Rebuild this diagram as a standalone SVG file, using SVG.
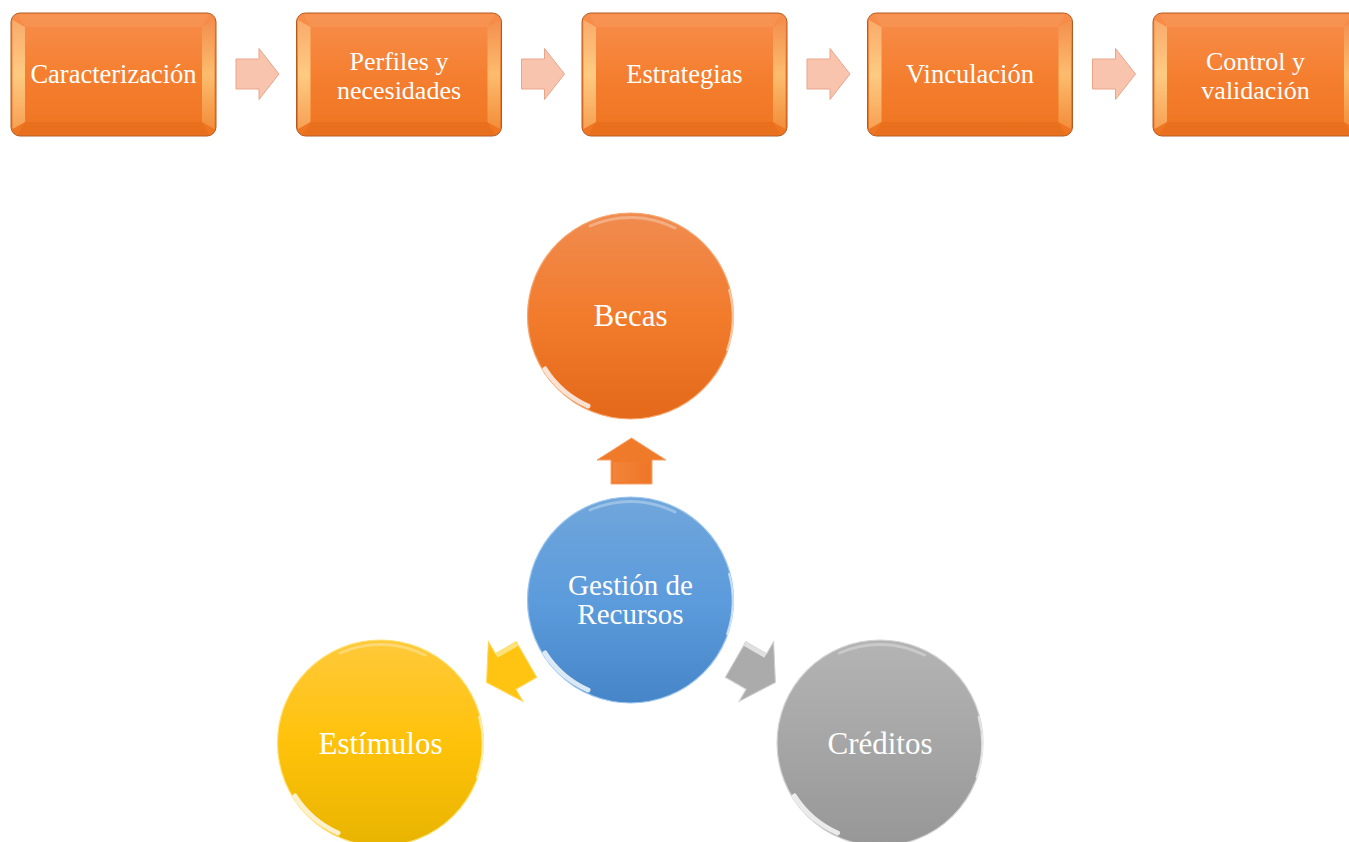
<svg xmlns="http://www.w3.org/2000/svg" xmlns:xlink="http://www.w3.org/1999/xlink" width="1349" height="842" viewBox="0 0 1349 842">
<style>
.bt{font-family:"Liberation Serif","Times New Roman",serif;font-size:26.5px;fill:#fff;text-anchor:middle}
.bt2{font-family:"Liberation Serif","Times New Roman",serif;font-size:26px;fill:#fff;text-anchor:middle}
.ct{font-family:"Liberation Serif","Times New Roman",serif;font-size:31px;fill:#fff;text-anchor:middle}
.sa{fill:#F9C4AE;stroke:#E9A58A;stroke-width:1}
.hl{fill:none;stroke:#fff;stroke-linecap:round}
</style>
<defs>
<linearGradient id="gBox" x1="0" y1="0" x2="0" y2="1">
<stop offset="0" stop-color="#F78E4C"/><stop offset="0.5" stop-color="#F57F30"/><stop offset="1" stop-color="#EE7420"/>
</linearGradient>
<linearGradient id="gBevL" x1="0" y1="0" x2="0" y2="1">
<stop offset="0" stop-color="#FAB070"/><stop offset="0.5" stop-color="#FFD890"/><stop offset="1" stop-color="#F9A85C"/>
</linearGradient>
<linearGradient id="gBevR" x1="0" y1="0" x2="0" y2="1">
<stop offset="0" stop-color="#F39050"/><stop offset="0.5" stop-color="#FDC778"/><stop offset="1" stop-color="#F3923F"/>
</linearGradient>
<linearGradient id="gOr" x1="0" y1="0" x2="0" y2="1">
<stop offset="0" stop-color="#F08C50"/><stop offset="0.5" stop-color="#F27B2C"/><stop offset="1" stop-color="#E4691A"/>
</linearGradient>
<linearGradient id="gBl" x1="0" y1="0" x2="0" y2="1">
<stop offset="0" stop-color="#70A6DB"/><stop offset="0.5" stop-color="#5C9BDC"/><stop offset="1" stop-color="#4686C8"/>
</linearGradient>
<linearGradient id="gYe" x1="0" y1="0" x2="0" y2="1">
<stop offset="0" stop-color="#FFC93A"/><stop offset="0.5" stop-color="#FFC20A"/><stop offset="1" stop-color="#E8B400"/>
</linearGradient>
<linearGradient id="gGr" x1="0" y1="0" x2="0" y2="1">
<stop offset="0" stop-color="#B4B4B4"/><stop offset="0.5" stop-color="#A6A6A6"/><stop offset="1" stop-color="#979797"/>
</linearGradient>
<linearGradient id="gArO" x1="0" y1="0" x2="0" y2="1">
<stop offset="0" stop-color="#F58A45"/><stop offset="1" stop-color="#EE7424"/>
</linearGradient>
<g id="box">
<rect x="0" y="0" width="205" height="123" rx="9" fill="url(#gBox)" stroke="#B35A20" stroke-width="1"/>
<polygon points="1.5,7 14,14 14,109 1.5,116" fill="url(#gBevL)" opacity="0.85"/>
<polygon points="203.5,7 191,14 191,109 203.5,116" fill="url(#gBevR)" opacity="0.85"/>
<polygon points="7,1.5 198,1.5 191,14 14,14" fill="#F89A5C" opacity="0.5"/>
<polygon points="14,109 191,109 198,121.5 7,121.5" fill="#E26A18" opacity="0.5"/>
</g>
<polygon id="sarrow" class="sa" points="0,-15 23,-15 23,-25.5 43,0 23,25.5 23,15 0,15"/>
<polygon id="barrow" points="-23,-20.5 1,-20.5 1,-34.5 23,0 1,34.5 1,20.5 -23,20.5"/>
</defs>
<rect width="1349" height="842" fill="#fff"/>

<g id="connectors">
<use xlink:href="#sarrow" href="#sarrow" transform="translate(236,74)"/>
<use xlink:href="#sarrow" href="#sarrow" transform="translate(521.5,74)"/>
<use xlink:href="#sarrow" href="#sarrow" transform="translate(807,74)"/>
<use xlink:href="#sarrow" href="#sarrow" transform="translate(1092.5,74)"/>
<g transform="translate(631.5,461) rotate(-90)">
<use xlink:href="#barrow" href="#barrow" fill="#EF7A2A" stroke="#F6A36A" stroke-width="1"/>
<polygon points="-21,-18.5 -1,-18.5 -1,18.5 -21,18.5" fill="url(#gArO)" opacity="0.6"/>
</g>
<g transform="translate(506.5,671) rotate(150)">
<use xlink:href="#barrow" href="#barrow" fill="#FFC412" stroke="#FFD85A" stroke-width="1"/>
<polygon points="-23,16 1,16 1,20.5 -23,20.5" fill="#FFE27A"/>
</g>
<g transform="translate(755.5,671) rotate(30)">
<use xlink:href="#barrow" href="#barrow" fill="#ABABAB" stroke="#D0D0D0" stroke-width="1"/>
<polygon points="-23,-20.5 1,-20.5 1,-16 -23,-16" fill="#E0E0E0"/>
</g>
</g>

<g id="node-caracterizacion">
<use xlink:href="#box" href="#box" transform="translate(11,13)"/>
<text class="bt" x="113.5" y="83">Caracterización</text>
</g>
<g id="node-perfiles">
<use xlink:href="#box" href="#box" transform="translate(296.5,13)"/>
<text class="bt2" x="399" y="69.5">Perfiles y<tspan x="399" dy="29">necesidades</tspan></text>
</g>
<g id="node-estrategias">
<use xlink:href="#box" href="#box" transform="translate(582,13)"/>
<text class="bt" x="684.5" y="83">Estrategias</text>
</g>
<g id="node-vinculacion">
<use xlink:href="#box" href="#box" transform="translate(867.5,13)"/>
<text class="bt" x="970" y="83">Vinculación</text>
</g>
<g id="node-control">
<use xlink:href="#box" href="#box" transform="translate(1153,13)"/>
<text class="bt2" x="1255.5" y="69.5">Control y<tspan x="1255.5" dy="29">validación</tspan></text>
</g>

<g id="node-becas">
<circle cx="630.5" cy="316" r="103" fill="url(#gOr)" stroke="#F6A870" stroke-width="1.2"/>
<path class="hl" d="M 545,369 A 99 99 0 0 0 588,406" stroke-width="5" opacity="0.8"/>
<path class="hl" d="M 590,226 A 99 99 0 0 1 675,228" stroke-width="3" opacity="0.3"/>
<path class="hl" d="M 729,290 A 101 101 0 0 1 727,350" stroke-width="2" opacity="0.5"/>
<text class="ct" x="630.5" y="326">Becas</text>
</g>
<g id="node-gestion">
<circle cx="630.5" cy="600" r="103" fill="url(#gBl)" stroke="#9CC6EE" stroke-width="1.2"/>
<path class="hl" d="M 545,653 A 99 99 0 0 0 588,690" stroke-width="5" opacity="0.8"/>
<path class="hl" d="M 590,510 A 99 99 0 0 1 675,512" stroke-width="3" opacity="0.3"/>
<path class="hl" d="M 729,574 A 101 101 0 0 1 727,634" stroke-width="2" opacity="0.6"/>
<text class="ct" x="630.5" y="595" style="font-size:29px">Gestión de<tspan x="630.5" dy="29">Recursos</tspan></text>
</g>
<g id="node-estimulos">
<circle cx="380.5" cy="743" r="103" fill="url(#gYe)" stroke="#FFE070" stroke-width="1.2"/>
<path class="hl" d="M 295,796 A 99 99 0 0 0 338,833" stroke-width="5" opacity="0.8"/>
<path class="hl" d="M 340,653 A 99 99 0 0 1 425,655" stroke-width="3" opacity="0.3"/>
<path class="hl" d="M 479,717 A 101 101 0 0 1 477,777" stroke-width="2" opacity="0.6"/>
<text class="ct" x="380.5" y="754">Estímulos</text>
</g>
<g id="node-creditos">
<circle cx="880" cy="743" r="103" fill="url(#gGr)" stroke="#D4D4D4" stroke-width="1.2"/>
<path class="hl" d="M 794.5,796 A 99 99 0 0 0 837.5,833" stroke-width="5" opacity="0.8"/>
<path class="hl" d="M 839.5,653 A 99 99 0 0 1 924.5,655" stroke-width="3" opacity="0.3"/>
<path class="hl" d="M 978.5,717 A 101 101 0 0 1 976.5,777" stroke-width="2" opacity="0.6"/>
<text class="ct" x="880" y="754">Créditos</text>
</g>
</svg>
